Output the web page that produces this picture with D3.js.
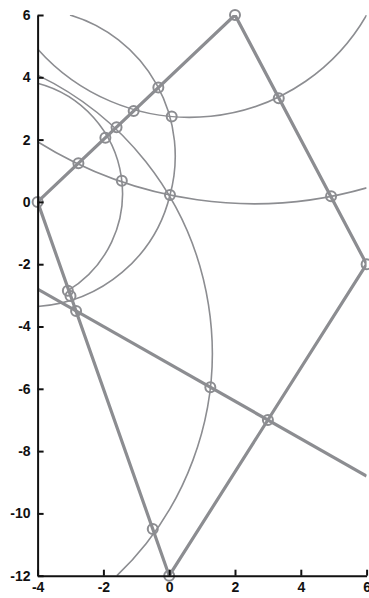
<!DOCTYPE html>
<html>
<head>
<meta charset="utf-8">
<script src="https://cdn.jsdelivr.net/npm/d3@7"></script>
<style>
  html, body { margin: 0; padding: 0; background: #fff; }
  svg { display: block; }
  .tick text { font-family: "Liberation Sans", Arial, sans-serif; font-weight: bold; font-size: 14px; fill: #111; }
</style>
</head>
<body>
<svg id="chart" width="369" height="598"></svg>
<script>
// ---- data ----
const xTicks = [-4, -2, 0, 2, 4, 6];
const yTicks = [6, 4, 2, 0, -2, -4, -6, -8, -10, -12];

// thick quadrilateral (closed)
const polyX = [-4, 2, 6, 0, -4];
const polyY = [0, 6, -2, -12, 0];

// thick straight chord
const chordX = [-4, 6];
const chordY = [-2.8, -8.8];

// thin circular arcs: each given by start, a point it passes, end
const arcNames  = ["R", "P", "T", "S1", "S2", "U"];
const arcStartX = [-4, -3.015, 0.024, -4, -4, -4];
const arcStartY = [4.91, 6, 0.22, 4.07, 3.81, 1.93];
const arcViaX   = [0.076, -0.33, -1.04, 1.25, -1.44, 0.024];
const arcViaY   = [2.74, 3.67, -1.87, -5.95, 0.68, 0.22];
const arcEndX   = [6, 0.024, -4, -1.59, -3.08, 6];
const arcEndY   = [6, 0.22, -3.36, -12, -2.85, 0.45];

// circle markers at vertices / intersections
const markerX = [2, -4, 6, 0, -0.33, 3.33, 0.076, -1.08, -1.6, -1.94, -2.76, -1.44, 0.024, 4.92, -3.08, -3.0, -2.83, 1.25, 3, -0.5];
const markerY = [6, 0, -2, -12, 3.67, 3.33, 2.74, 2.92, 2.4, 2.06, 1.24, 0.68, 0.22, 0.18, -2.85, -3.02, -3.5, -5.95, -7, -10.5];

// ---- drawing ----
const GRAY = "#8c8d91";
const svg = d3.select("#chart");
const x = d3.scaleLinear().domain([-4, 6]).range([37.6, 366.6]);
const y = d3.scaleLinear().domain([-12, 6]).range([575.7, 15]);

svg.append("defs").append("clipPath").attr("id", "plotclip")
  .append("rect")
  .attr("x", x(-4)).attr("y", y(6))
  .attr("width", x(6) - x(-4)).attr("height", y(-12) - y(6));

const plot = svg.append("g").attr("clip-path", "url(#plotclip)");

function circle3(a, b, c) {
  const d = 2 * (a[0] * (b[1] - c[1]) + b[0] * (c[1] - a[1]) + c[0] * (a[1] - b[1]));
  const a2 = a[0] * a[0] + a[1] * a[1], b2 = b[0] * b[0] + b[1] * b[1], c2 = c[0] * c[0] + c[1] * c[1];
  const ux = (a2 * (b[1] - c[1]) + b2 * (c[1] - a[1]) + c2 * (a[1] - b[1])) / d;
  const uy = (a2 * (c[0] - b[0]) + b2 * (a[0] - c[0]) + c2 * (b[0] - a[0])) / d;
  return [ux, uy, Math.hypot(a[0] - ux, a[1] - uy)];
}
const TAU = 2 * Math.PI;
const norm = t => ((t % TAU) + TAU) % TAU;

arcNames.forEach((name, i) => {
  const s = [x(arcStartX[i]), y(arcStartY[i])];
  const v = [x(arcViaX[i]), y(arcViaY[i])];
  const e = [x(arcEndX[i]), y(arcEndY[i])];
  const [cx, cy, r] = circle3(s, v, e);
  const a0 = Math.atan2(s[1] - cy, s[0] - cx);
  const a1 = Math.atan2(v[1] - cy, v[0] - cx);
  const a2 = Math.atan2(e[1] - cy, e[0] - cx);
  const ccw = !(norm(a1 - a0) < norm(a2 - a0));
  const p = d3.path();
  p.moveTo(s[0], s[1]);
  p.arc(cx, cy, r, a0, a2, ccw);
  plot.append("path")
    .attr("d", p.toString())
    .attr("fill", "none")
    .attr("stroke", GRAY)
    .attr("stroke-width", 1.6);
});

const line = d3.line().x(d => x(d[0])).y(d => y(d[1]));
plot.append("path")
  .attr("d", line(polyX.map((v, i) => [v, polyY[i]])))
  .attr("fill", "none").attr("stroke", GRAY)
  .attr("stroke-width", 3.2).attr("stroke-linejoin", "miter");
plot.append("path")
  .attr("d", line(chordX.map((v, i) => [v, chordY[i]])))
  .attr("fill", "none").attr("stroke", GRAY)
  .attr("stroke-width", 3.2);

svg.append("g").selectAll("circle")
  .data(markerX.map((v, i) => [v, markerY[i]]))
  .join("circle")
  .attr("cx", d => x(d[0])).attr("cy", d => y(d[1]))
  .attr("r", 5)
  .attr("fill", "none").attr("stroke", GRAY).attr("stroke-width", 2);

// axes
const fmt = d => String(d);
const gx = svg.append("g").attr("transform", `translate(0,${y(-12)})`)
  .call(d3.axisBottom(x).tickValues(xTicks).tickFormat(fmt).tickSizeInner(-6).tickSizeOuter(0).tickPadding(6));
const gy = svg.append("g").attr("transform", `translate(${x(-4)},0)`)
  .call(d3.axisLeft(y).tickValues(yTicks).tickFormat(fmt).tickSizeInner(-6).tickSizeOuter(0).tickPadding(7));
[gx, gy].forEach(g => {
  g.select(".domain").attr("stroke", "#111").attr("stroke-width", 2);
  g.selectAll(".tick line").attr("stroke", "#111").attr("stroke-width", 2);
  g.attr("font-size", null).attr("font-family", null);
});
</script>
</body>
</html>
